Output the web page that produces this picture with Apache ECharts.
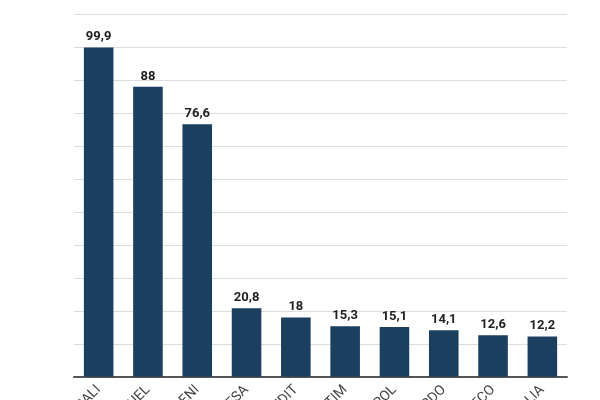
<!DOCTYPE html>
<html>
<head>
<meta charset="utf-8">
<script src="https://cdn.jsdelivr.net/npm/echarts@6/dist/echarts.min.js"></script>
<style>
html,body{margin:0;padding:0;background:#fff;}
#c{width:600px;height:400px;}
</style>
</head>
<body>
<div id="c"></div>
<script>
const categories = ['GENERALI', 'ENEL', 'ENI', 'INTESA', 'UNICREDIT', 'TIM', 'UNIPOL', 'LEONARDO', 'FINECO', 'ITALIA'];
const values = [99.9, 88, 76.6, 20.8, 18, 15.3, 15.1, 14.1, 12.6, 12.2];

const chart = echarts.init(document.getElementById('c'), null, {renderer: 'canvas'});
chart.setOption({
  animation: false,
  backgroundColor: '#ffffff',
  grid: {left: 74, right: 33, top: 14.3, bottom: 23.3, containLabel: false, outerBoundsMode: 'none'},
  xAxis: {
    type: 'category',
    data: categories,
    axisLine: {lineStyle: {color: '#555555', width: 2}},
    axisTick: {show: false},
    axisLabel: {rotate: 45, margin: 11, color: '#444444', fontSize: 14, fontFamily: 'Roboto', interval: 0}
  },
  yAxis: {
    type: 'value',
    min: 0, max: 110, interval: 10,
    axisLine: {show: false},
    axisTick: {show: false},
    axisLabel: {show: false},
    splitLine: {lineStyle: {color: '#dddddd', width: 1}}
  },
  series: [{
    type: 'bar',
    data: values,
    barCategoryGap: '40%',
    itemStyle: {color: '#1b3f5e'},
    label: {
      show: true,
      position: 'top',
      distance: 4,
      color: '#222222',
      fontSize: 13,
      fontWeight: 'bold',
      fontFamily: 'Roboto',
      formatter: p => String(p.value).replace('.', ',')
    }
  }]
});
</script>
</body>
</html>
